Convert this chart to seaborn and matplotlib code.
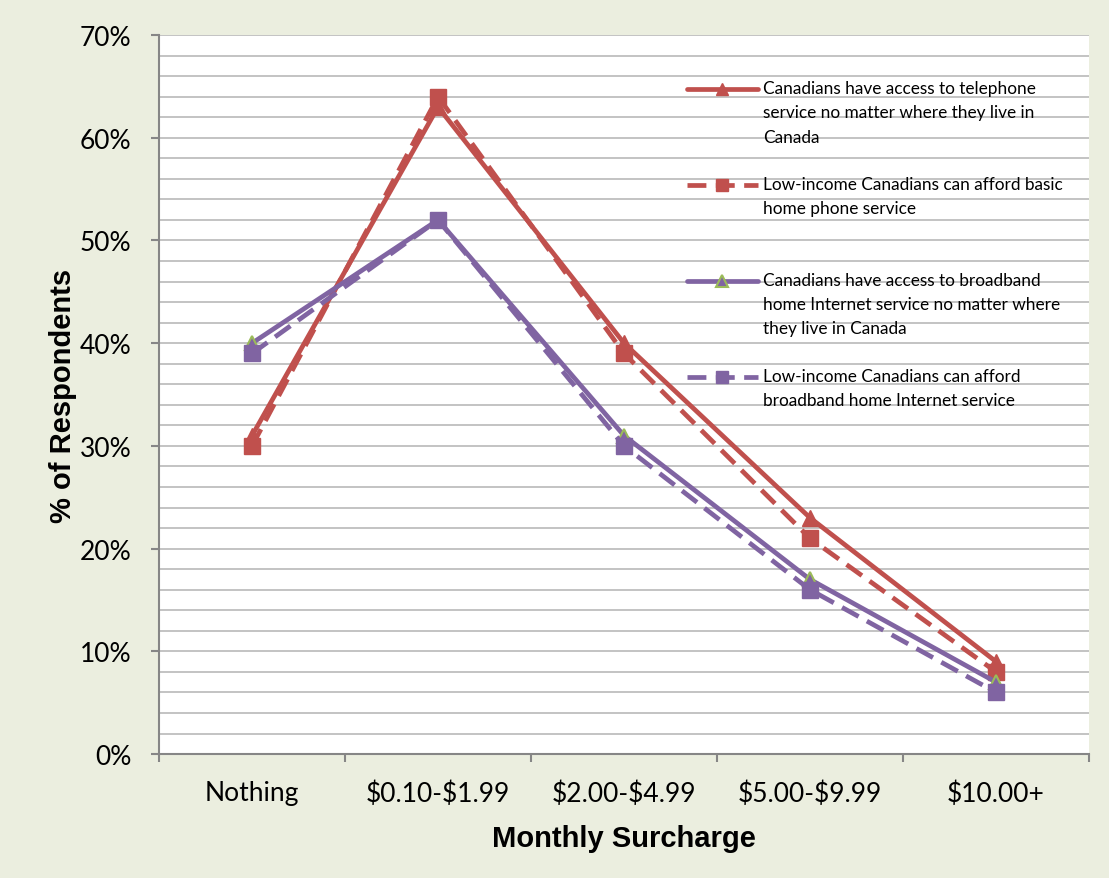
import numpy as np
import pandas as pd
import matplotlib
matplotlib.use("Agg")
import matplotlib.pyplot as plt
import seaborn as sns
from matplotlib.ticker import MultipleLocator, FixedLocator, NullFormatter

# Survey results: share of respondents willing to pay each monthly surcharge
categories = ["Nothing", "$0.10-$1.99", "$2.00-$4.99", "$5.00-$9.99", "$10.00+"]
phone_access = [31, 63, 40, 23, 9]
phone_afford = [30, 64, 39, 21, 8]
internet_access = [40, 52, 31, 17, 7]
internet_afford = [39, 52, 30, 16, 6]

series_labels = [
    "Canadians have access to telephone\nservice no matter where they live in\nCanada",
    "Low-income Canadians can afford basic\nhome phone service",
    "Canadians have access to broadband\nhome Internet service no matter where\nthey live in Canada",
    "Low-income Canadians can afford\nbroadband home Internet service",
]

RED = "#C0504D"
PURPLE = "#8064A2"
GREEN = "#9BBB59"
BG = "#EBEEDF"
GRID = "#BEBEBE"
AXIS = "#868686"

sns.set_theme(style="white")
plt.rcParams["font.family"] = ["Lato", "DejaVu Sans"]
plt.rcParams["text.parse_math"] = False
plt.rcParams["text.color"] = "black"
plt.rcParams["axes.labelcolor"] = "black"

fig = plt.figure(figsize=(11.09, 8.79), dpi=100, facecolor=BG)
ax = fig.add_axes([0.1434, 0.141, 0.8386, 0.818])
ax.set_facecolor("white")

x = np.arange(len(categories))
data = pd.DataFrame({
    "pos": np.tile(x, 4),
    "value": phone_access + phone_afford + internet_access + internet_afford,
    "series": np.repeat(np.arange(4), len(categories)),
})

styles = [
    dict(color=RED, linestyle="-", marker="^", markersize=11,
         markerfacecolor=RED, markeredgecolor=RED, markeredgewidth=1),
    dict(color=RED, linestyle=(0, (4, 2)), marker="s", markersize=11,
         markerfacecolor=RED, markeredgecolor=RED, markeredgewidth=1),
    dict(color=PURPLE, linestyle="-", marker="^", markersize=10,
         markerfacecolor=PURPLE, markeredgecolor=GREEN, markeredgewidth=1.5),
    dict(color=PURPLE, linestyle=(0, (4, 2)), marker="s", markersize=11,
         markerfacecolor=PURPLE, markeredgecolor=PURPLE, markeredgewidth=1),
]

for i, st in enumerate(styles):
    sub = data[data["series"] == i]
    sns.lineplot(data=sub, x="pos", y="value", ax=ax, linewidth=3.4,
                 legend=False, zorder=3 + i, **st)

# Axes ranges and grid
ax.set_xlim(-0.5, len(categories) - 0.5)
ax.set_ylim(0, 70)
ax.yaxis.set_major_locator(MultipleLocator(10))
ax.yaxis.set_minor_locator(MultipleLocator(2))
ax.set_yticklabels([f"{int(v)}%" for v in ax.get_yticks()])
ax.grid(which="both", axis="y", color=GRID, linewidth=1.3)
ax.set_axisbelow(True)

# Category labels centered, boundary ticks between categories
ax.xaxis.set_major_locator(FixedLocator(x))
ax.set_xticklabels(categories)
ax.xaxis.set_minor_locator(FixedLocator(np.arange(-0.5, len(categories), 1.0)))
ax.xaxis.set_minor_formatter(NullFormatter())
ax.tick_params(axis="x", which="major", length=0, pad=19, labelsize=19,
               labelcolor="black")
ax.tick_params(axis="x", which="minor", length=6, width=1.5, color=AXIS,
               direction="out", bottom=True)
ax.tick_params(axis="y", which="major", length=6, width=1.5, color=AXIS,
               direction="out", left=True, pad=14, labelsize=19,
               labelcolor="black")
ax.tick_params(axis="y", which="minor", length=0)

for side in ["top", "right"]:
    ax.spines[side].set_visible(False)
for side in ["left", "bottom"]:
    ax.spines[side].set_color(AXIS)
    ax.spines[side].set_linewidth(1.5)

ax.set_xlabel("Monthly Surcharge", fontsize=21, fontweight="bold",
              family="Liberation Sans", labelpad=13, color="black")
ax.set_ylabel("% of Respondents", fontsize=21, fontweight="bold",
              family="Liberation Sans", labelpad=2, color="black")

# Legend: pad each label so its handle sits beside the first line
padded = ["\n" * lab.count("\n") + lab for lab in series_labels]
handles = ax.get_lines()[:4]
leg = ax.legend(handles, padded, loc="upper left", frameon=False,
                bbox_to_anchor=((687 - 159) / 930, (755 - 92 + 2.5 * 23.5) / 719),
                borderpad=0, borderaxespad=0, handlelength=4.1,
                handletextpad=0.3, labelspacing=0.45, numpoints=1,
                markerscale=0.85, prop={"family": "Lato", "size": 12.4})
for t in leg.get_texts():
    t.set_linespacing(1.62)

fig.savefig("out.png", dpi=100, facecolor=BG)
